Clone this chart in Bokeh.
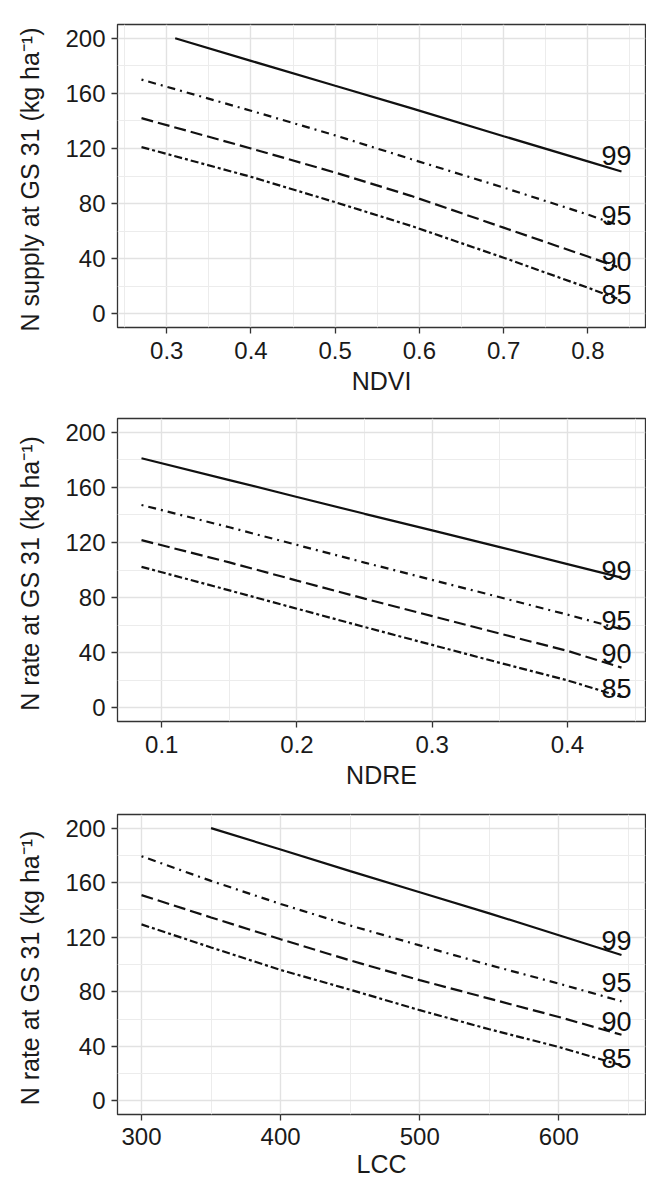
from bokeh.plotting import figure
from bokeh.layouts import column
from bokeh.models import FixedTicker, Range1d, ColumnDataSource
from bokeh.core.properties import value
from bokeh.embed import file_html
from bokeh.resources import INLINE

# ---------------- data ----------------
PERCENTILES = ["99", "95", "90", "85"]

NDVI_X99 = [0.31, 0.40, 0.50, 0.59, 0.70, 0.80, 0.84]
NDVI_X = [0.27, 0.40, 0.50, 0.59, 0.70, 0.80, 0.835]
NDVI_99 = [200.0, 183.6, 165.5, 149.3, 128.9, 110.6, 103.3]
NDVI_95 = [170.0, 147.4, 129.5, 112.3, 91.6, 72.0, 64.5]
NDVI_90 = [142.0, 120.0, 102.5, 85.6, 62.5, 41.5, 34.0]
NDVI_85 = [121.0, 99.4, 81.0, 63.8, 40.7, 18.9, 11.0]
NDVI_LABEL_Y = [114.7, 71.1, 37.8, 14.1]
NDVI_TICKS = [0.3, 0.4, 0.5, 0.6, 0.7, 0.8]
NDVI_TICK_LABELS = ["0.3", "0.4", "0.5", "0.6", "0.7", "0.8"]

NDRE_X = [0.085, 0.15, 0.20, 0.25, 0.30, 0.35, 0.40, 0.44]
NDRE_99 = [181.1, 165.3, 153.0, 140.8, 128.8, 116.6, 104.3, 94.5]
NDRE_95 = [147.2, 131.0, 118.2, 105.4, 92.8, 80.2, 67.6, 57.0]
NDRE_90 = [121.7, 105.5, 92.3, 79.2, 66.5, 53.8, 41.3, 29.1]
NDRE_85 = [102.3, 85.2, 71.9, 58.6, 45.6, 32.6, 19.9, 7.8]
NDRE_LABEL_Y = [99.4, 63.1, 39.1, 13.6]
NDRE_TICKS = [0.1, 0.2, 0.3, 0.4]
NDRE_TICK_LABELS = ["0.1", "0.2", "0.3", "0.4"]

LCC_X99 = [350, 400, 450, 500, 550, 600, 645]
LCC_X = [300, 350, 400, 450, 500, 550, 600, 645]
LCC_99 = [200.0, 184.3, 168.5, 153.0, 137.5, 121.5, 107.0]
LCC_95 = [179.4, 161.3, 144.4, 128.6, 114.0, 99.6, 86.0, 73.0]
LCC_90 = [150.9, 134.5, 118.5, 103.0, 88.5, 75.0, 61.5, 48.5]
LCC_85 = [129.4, 112.5, 96.0, 81.5, 66.5, 52.5, 39.5, 26.0]
LCC_LABEL_Y = [117.7, 87.0, 58.0, 31.4]
LCC_TICKS = [300, 400, 500, 600]
LCC_TICK_LABELS = ["300", "400", "500", "600"]

Y_LIMITS = [0, 200]
Y_TICKS = [0, 40, 80, 120, 160, 200]
Y_TICK_LABELS = ["0", "40", "80", "120", "160", "200"]

# ---------------- styling ----------------
FONT = "Liberation Sans"
DASHES = ["solid", "2 5 8 5", "12 5", "8 3 3 3"]
LINE_COLOR = "#111111"


def expand(lo, hi, frac=0.05):
    d = (hi - lo) * frac
    return lo - d, hi + d


def midpoints(ticks, lo, hi):
    step = ticks[1] - ticks[0]
    out = []
    t = ticks[0] - step / 2.0
    while t <= hi:
        if t >= lo:
            out.append(round(t, 6))
        t += step
    return out


def panel(xs_list, ys_list, label_y, xticks, xtick_labels, xlabel, ylabel,
          top, frame_h, bottom, lab_standoff, title_standoff):
    all_x = [v for xs in xs_list for v in xs]
    x0, x1 = expand(min(all_x), max(all_x))
    y0, y1 = expand(Y_LIMITS[0], Y_LIMITS[1])

    p = figure(frame_width=528, frame_height=frame_h,
               x_range=Range1d(x0, x1), y_range=Range1d(y0, y1),
               output_backend="svg", toolbar_location=None,
               min_border_left=117, min_border_right=1,
               min_border_top=top, min_border_bottom=bottom)
    p.background_fill_color = "white"
    p.border_fill_color = "white"
    p.outline_line_color = "#333333"
    p.outline_line_width = 1.3

    p.xaxis.ticker = FixedTicker(ticks=xticks, minor_ticks=midpoints(xticks, x0, x1))
    p.yaxis.ticker = FixedTicker(ticks=Y_TICKS, minor_ticks=midpoints(Y_TICKS, y0, y1))
    p.xaxis.major_label_overrides = dict(zip(xticks, xtick_labels))
    p.yaxis.major_label_overrides = dict(zip(Y_TICKS, Y_TICK_LABELS))

    for g in (p.xgrid, p.ygrid):
        g.grid_line_color = "#e2e2e2"
        g.grid_line_width = 1.4
        g.minor_grid_line_color = "#ececec"
        g.minor_grid_line_width = 1.0

    for ax in (p.xaxis, p.yaxis):
        ax.axis_line_color = None
        ax.major_tick_line_color = "#333333"
        ax.major_tick_line_width = 1.3
        ax.major_tick_out = 6
        ax.major_tick_in = 0
        ax.minor_tick_line_color = None
        ax.major_label_text_font = FONT
        ax.major_label_text_font_size = "24px"
        ax.major_label_text_color = "#1a1a1a"
        ax.axis_label_text_font = FONT
        ax.axis_label_text_font_size = "25px"
        ax.axis_label_text_font_style = "normal"
        ax.axis_label_text_color = "#1a1a1a"

    p.xaxis.axis_label = xlabel
    p.yaxis.axis_label = ylabel
    p.xaxis.major_label_standoff = lab_standoff
    p.xaxis.axis_label_standoff = title_standoff
    p.yaxis.major_label_standoff = 6
    p.yaxis.axis_label_standoff = 18

    for xs, ys, dash in zip(xs_list, ys_list, DASHES):
        p.line(xs, ys, line_color=LINE_COLOR, line_width=2.2, line_dash=dash)

    lx = max(all_x)
    src = ColumnDataSource(dict(x=[lx] * len(PERCENTILES), y=label_y, t=PERCENTILES))
    p.text(x="x", y="y", text="t", source=src, text_align="center",
           text_baseline="alphabetic", x_offset=-5,
           text_font=value(FONT), text_font_size="27px", text_color="#111111")
    return p


YLAB1 = "N supply at GS 31  (kg ha\u207b\u00b9)"
YLAB2 = "N rate at GS 31  (kg ha\u207b\u00b9)"

p1 = panel([NDVI_X99, NDVI_X, NDVI_X, NDVI_X], [NDVI_99, NDVI_95, NDVI_90, NDVI_85],
           NDVI_LABEL_Y, NDVI_TICKS, NDVI_TICK_LABELS, "NDVI", YLAB1,
           24, 303, 75, 8, 5)
p2 = panel([NDRE_X, NDRE_X, NDRE_X, NDRE_X], [NDRE_99, NDRE_95, NDRE_90, NDRE_85],
           NDRE_LABEL_Y, NDRE_TICKS, NDRE_TICK_LABELS, "NDRE", YLAB2,
           16, 303, 75, 8, 5)
p3 = panel([LCC_X99, LCC_X, LCC_X, LCC_X], [LCC_99, LCC_95, LCC_90, LCC_85],
           LCC_LABEL_Y, LCC_TICKS, LCC_TICK_LABELS, "LCC", YLAB2,
           18, 300, 70, 7, 2)

layout = column(p1, p2, p3, spacing=0)
open("out.html", "w").write(file_html(layout, INLINE))
